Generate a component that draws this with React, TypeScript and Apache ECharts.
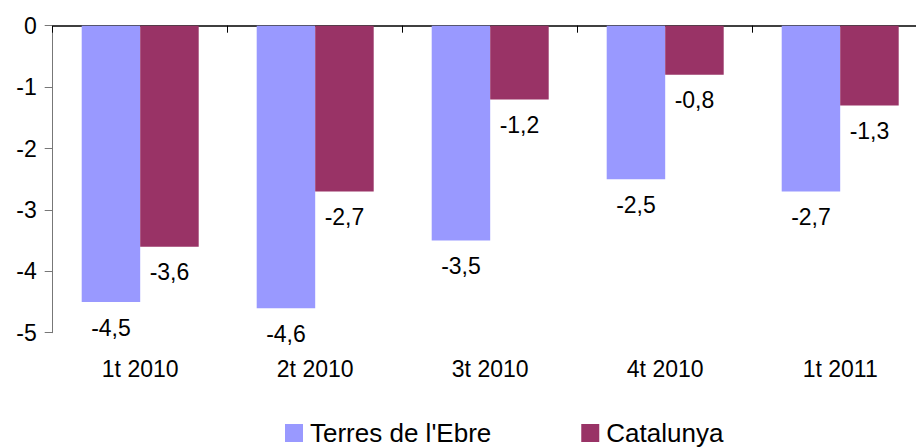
import React, { useEffect, useRef } from "react";
import * as echarts from "echarts";

const categories = ["1t 2010", "2t 2010", "3t 2010", "4t 2010", "1t 2011"];
const terresValues = [-4.5, -4.6, -3.5, -2.5, -2.7];
const catalunyaValues = [-3.6, -2.7, -1.2, -0.8, -1.3];
const seriesNames = ["Terres de l'Ebre", "Catalunya"];

const FONT = "'Liberation Sans', Arial, sans-serif";

export default function App() {
  const ref = useRef<HTMLDivElement>(null);

  useEffect(() => {
    document.body.style.margin = "0";
    if (!ref.current) return;
    const chart = echarts.init(ref.current, undefined, { renderer: "svg" });
    const fmt = (p: any) => String(p.value).replace(".", ",");
    const label = {
      show: true,
      position: "bottom" as const,
      distance: 14,
      color: "#000",
      fontSize: 23,
      fontFamily: FONT,
      formatter: fmt,
    };
    chart.setOption({
      animation: false,
      backgroundColor: "#fff",
      textStyle: { fontFamily: FONT },
      grid: {
        left: 52.7,
        top: 25.7,
        width: 875,
        height: 307,
        containLabel: false,
        outerBoundsMode: "none",
      },
      legend: {
        left: 285,
        top: 420,
        padding: 0,
        itemWidth: 18,
        itemHeight: 18,
        itemGap: 90,
        icon: "rect",
        textStyle: { fontSize: 26, color: "#000", fontFamily: FONT, padding: [0, 0, 0, 2] },
        data: seriesNames,
      },
      xAxis: [
        {
          type: "category",
          data: categories,
          position: "top",
          axisLine: { show: true, lineStyle: { color: "#000", width: 1.5 } },
          axisTick: { show: true, inside: true, length: 7, lineStyle: { color: "#000" } },
          axisLabel: { show: false },
          splitLine: { show: false },
        },
        {
          type: "category",
          data: categories,
          position: "bottom",
          axisLine: { show: false },
          axisTick: { show: false },
          axisLabel: { show: true, margin: 25, fontSize: 23, color: "#000", fontFamily: FONT },
          splitLine: { show: false },
        },
      ],
      yAxis: {
        type: "value",
        min: -5,
        max: 0,
        interval: 1,
        axisLine: { show: true, lineStyle: { color: "#777", width: 1 } },
        axisTick: { show: true, length: 8, lineStyle: { color: "#777" } },
        axisLabel: { margin: 16, fontSize: 23, color: "#000", fontFamily: FONT },
        splitLine: { show: false },
      },
      series: [
        {
          name: seriesNames[0],
          type: "bar",
          xAxisIndex: 0,
          data: terresValues,
          barWidth: 58.5,
          barGap: "0%",
          itemStyle: { color: "#9999FF" },
          label,
        },
        {
          name: seriesNames[1],
          type: "bar",
          xAxisIndex: 0,
          data: catalunyaValues,
          barWidth: 58.5,
          barGap: "0%",
          itemStyle: { color: "#993366" },
          label,
        },
      ],
    });
    return () => chart.dispose();
  }, []);

  return <div ref={ref} style={{ width: 916, height: 447 }} />;
}
